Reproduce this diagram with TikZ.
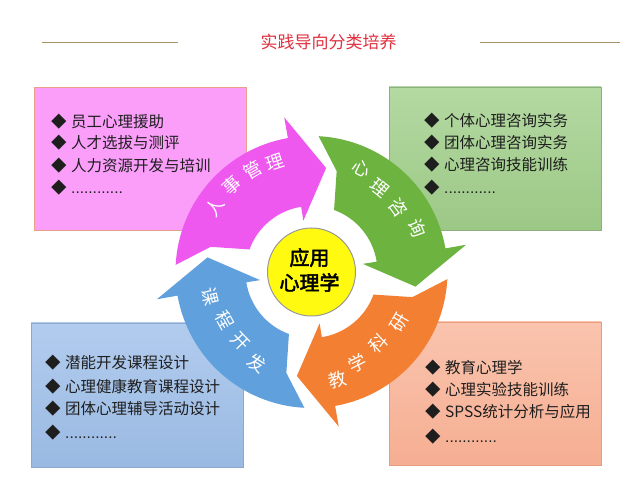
\documentclass[tikz,border=0pt]{standalone}
\usepackage{fontspec}
\newfontfamily\cjk{Noto Sans CJK SC}
\newfontfamily\cjkb[FakeBold=2.5]{Noto Sans CJK SC}
\newfontfamily\dotf{Liberation Sans}
\definecolor{titlered}{HTML}{E0303E}
\definecolor{ruleline}{HTML}{A89268}
\definecolor{pinkA}{HTML}{EE58EE}
\definecolor{greenA}{HTML}{6CB340}
\definecolor{orangeA}{HTML}{F27F32}
\definecolor{blueA}{HTML}{60A0DC}
\definecolor{pinkB}{HTML}{FA9EFA}
\definecolor{pinkBd}{HTML}{E8A08A}
\definecolor{greenBt}{HTML}{B4D9A2}
\definecolor{greenBb}{HTML}{9CC886}
\definecolor{greenBd}{HTML}{8FAF80}
\definecolor{blueBt}{HTML}{B2CCEE}
\definecolor{blueBb}{HTML}{9AB9E2}
\definecolor{blueBd}{HTML}{8DA8CC}
\definecolor{orangeBt}{HTML}{FAC4AE}
\definecolor{orangeBb}{HTML}{F5AE92}
\definecolor{orangeBd}{HTML}{E59C7F}
\definecolor{ctrY}{HTML}{FFFA10}
\definecolor{itemtext}{HTML}{1E1E1E}
\newcommand\cycarrow[2]{%
  \begin{scope}[shift={(311.5,220)}, rotate=#1]
    \fill[#2] (177:136) -- (166:104) -- (160:66)
      arc[start angle=160, end angle=99, radius=66]
      -- (99:52) -- (82:105) -- (100:157) -- (100:136)
      arc[start angle=100, end angle=177, radius=136] -- cycle;
  \end{scope}}
\tikzset{
  infobox/.style={rectangle, inner sep=0pt, line width=0.8pt, minimum width=212, minimum height=143},
  itemline/.style={anchor=west, inner sep=0pt, text=itemtext, font=\cjk\fontsize{15.5}{18}\selectfont},
  arrowtext/.style={inner sep=0pt, text=white, font=\cjk\fontsize{18}{18}\selectfont},
}
\newcommand\bul{◆\hspace{4.5pt}}
\newcommand\dotrow{{\dotf ............}}
\begin{document}
\begin{tikzpicture}[x=1pt,y=1pt]
\useasboundingbox (0,0) rectangle (640,492);
\fill[white] (0,0) rectangle (640,492);

% title
\node[inner sep=0pt, text=titlered, font=\cjk\fontsize{17}{17}\selectfont] (title) at (328.5,450) {实践导向分类培养};
\coordinate (l1) at (42,450); \coordinate (l2) at (178,450);
\coordinate (r1) at (480,450); \coordinate (r2) at (620,450);
\draw[ruleline, line width=0.9pt] (l1) -- (l2);
\draw[ruleline, line width=0.9pt] (r1) -- (r2);

% boxes
\node[infobox, fill=pinkB, draw=pinkBd] (pbox) at (140,333.5) {};
\node[infobox, top color=greenBt, bottom color=greenBb, draw=greenBd] (gbox) at (495,333.5) {};
\node[infobox, minimum height=144, top color=blueBt, bottom color=blueBb, draw=blueBd] (bbox) at (137,97) {};
\node[infobox, top color=orangeBt, bottom color=orangeBb, draw=orangeBd] (obox) at (495,98.5) {};

% box items
\node[itemline] (p1) at (51,370) {\bul 员工心理援助};
\node[itemline] (p2) at (51,349) {\bul 人才选拔与测评};
\node[itemline] (p3) at (51,326) {\bul 人力资源开发与培训};
\node[itemline] (p4) at (51,304) {\bul \dotrow};

\node[itemline] (g1) at (424,371) {\bul 个体心理咨询实务};
\node[itemline] (g2) at (424,349) {\bul 团体心理咨询实务};
\node[itemline] (g3) at (424,327) {\bul 心理咨询技能训练};
\node[itemline] (g4) at (424,304) {\bul \dotrow};

\node[itemline] (b1) at (45,129) {\bul 潜能开发课程设计};
\node[itemline] (b2) at (45,105) {\bul 心理健康教育课程设计};
\node[itemline] (b3) at (45,83) {\bul 团体心理辅导活动设计};
\node[itemline] (b4) at (45,59) {\bul \dotrow};

\node[itemline] (o1) at (425,124) {\bul 教育心理学};
\node[itemline] (o2) at (425,102) {\bul 心理实验技能训练};
\node[itemline] (o3) at (425,80) {\bul SPSS统计分析与应用};
\node[itemline] (o4) at (425,55) {\bul \dotrow};

% cycle arrows
\cycarrow{0}{pinkA}
\cycarrow{-90}{greenA}
\cycarrow{-180}{orangeA}
\cycarrow{90}{blueA}

% centre
\node[circle, minimum size=88, inner sep=0pt, fill=ctrY, draw=black!40, line width=1pt] (core) at (311.5,220) {};
\node[inner sep=0pt, align=center, font=\cjkb\fontsize{20}{25}\selectfont] (coretext) at (309.5,222) {应用\\心理学};

% arrow labels
\node[arrowtext, rotate=56] (a1) at (215,285) {人};
\node[arrowtext, rotate=42] (a2) at (232,307) {事};
\node[arrowtext, rotate=30] (a3) at (253,322) {管};
\node[arrowtext, rotate=18] (a4) at (275,330) {理};

\node[arrowtext, rotate=-26] (c1) at (362,324) {心};
\node[arrowtext, rotate=-39] (c2) at (380,304) {理};
\node[arrowtext, rotate=-53.5] (c3) at (398,284) {咨};
\node[arrowtext, rotate=-67.4] (c4) at (417,264) {询};

\node[arrowtext, rotate=14] (e1) at (338,112) {教};
\node[arrowtext, rotate=26.6] (e2) at (357,129) {学};
\node[arrowtext, rotate=43] (e3) at (378,149) {科};
\node[arrowtext, rotate=60] (e4) at (400,169) {研};

\node[arrowtext, rotate=-76] (k1) at (210,195) {课};
\node[arrowtext, rotate=-61] (k2) at (225,172) {程};
\node[arrowtext, rotate=-46] (k3) at (240,150) {开};
\node[arrowtext, rotate=-31] (k4) at (257,129) {发};
\end{tikzpicture}
\end{document}
